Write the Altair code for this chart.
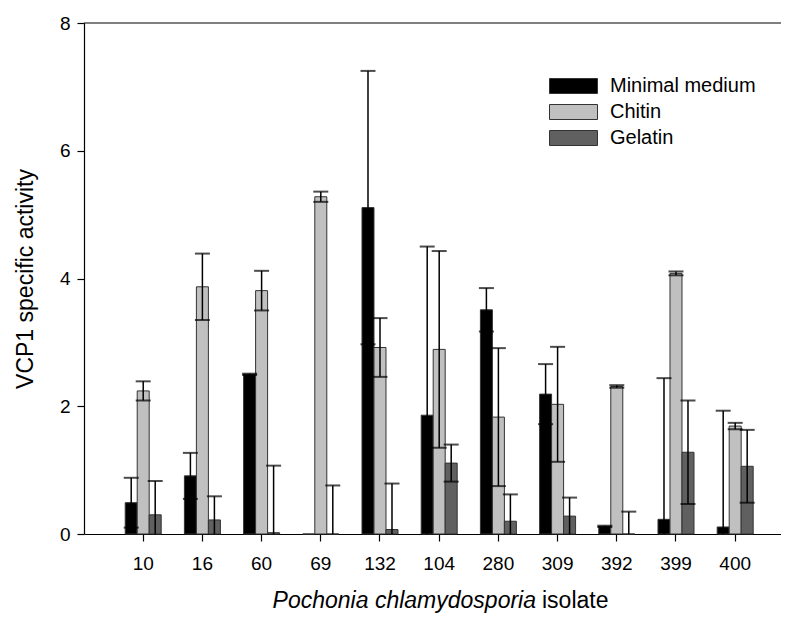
import altair as alt
import pandas as pd

isolates = ["10", "16", "60", "69", "132", "104", "280", "309", "392", "399", "400"]
media = ["Minimal medium", "Chitin", "Gelatin"]
colors = ["#000000", "#c0c0c0", "#606060"]

minimal_vals = [0.49, 0.91, 2.50, 0.0, 5.11, 1.86, 3.51, 2.19, 0.12, 0.23, 0.11]
minimal_err = [0.39, 0.36, 0.01, 0.0, 2.14, 2.64, 0.34, 0.47, 0.01, 2.21, 1.82]
chitin_vals = [2.24, 3.87, 3.81, 5.28, 2.92, 2.89, 1.83, 2.03, 2.31, 4.08, 1.69]
chitin_err = [0.15, 0.52, 0.31, 0.08, 0.46, 1.54, 1.08, 0.90, 0.02, 0.03, 0.05]
gelatin_vals = [0.30, 0.22, 0.02, 0.0, 0.07, 1.11, 0.20, 0.28, 0.0, 1.28, 1.06]
gelatin_err = [0.53, 0.37, 1.05, 0.76, 0.72, 0.29, 0.42, 0.29, 0.35, 0.81, 0.57]

rows = []
for medium, vals, errs in [
    ("Minimal medium", minimal_vals, minimal_err),
    ("Chitin", chitin_vals, chitin_err),
    ("Gelatin", gelatin_vals, gelatin_err),
]:
    for iso, v, e in zip(isolates, vals, errs):
        rows.append({"isolate": iso, "medium": medium, "value": v, "err": e,
                     "hi": v + e, "lo": v - e, "lo_line": max(v - e, 0.0)})
df = pd.DataFrame(rows)
err_df = df[df["err"] > 0]
lo_df = err_df[err_df["lo"] > 0]

FONT = "Liberation Sans"

x = alt.X("isolate:N", sort=isolates,
          scale=alt.Scale(paddingInner=0.392, paddingOuter=0.583, align=0.597, round=False),
          axis=alt.Axis(title=None, labelAngle=0, tickSize=7, labelPadding=13,
                        labelFontSize=19, domainWidth=1.2, tickWidth=1.2))
xoff = alt.XOffset("medium:N", sort=media,
                   scale=alt.Scale(domain=media, paddingInner=0, paddingOuter=0))
yscale = alt.Scale(domain=[0, 8], nice=False, zero=True)

bars = alt.Chart(df).mark_bar(stroke="#333333", strokeWidth=1).encode(
    x=x, xOffset=xoff,
    y=alt.Y("value:Q", scale=yscale,
            axis=alt.Axis(values=[0, 2, 4, 6, 8], format="d", title="VCP1 specific activity",
                          tickSize=7, labelPadding=7, labelFontSize=19,
                          titleFontSize=23, titleX=-59, titleY=255.5,
                          titleAngle=270, titleAlign="center", titleBaseline="middle",
                          domainWidth=1.2, tickWidth=1.2)),
    color=alt.Color("medium:N", sort=media,
                    scale=alt.Scale(domain=media, range=colors),
                    legend=alt.Legend(title=None, orient="none", legendX=465, legendY=53,
                                      symbolType="M-1,-0.3125H1V0.3125H-1Z",
                                      symbolSize=2304, symbolStrokeColor="#333333",
                                      symbolStrokeWidth=1, symbolOpacity=1,
                                      clipHeight=20, rowPadding=6,
                                      labelFontSize=20, labelOffset=12,
                                      labelFont=FONT, labelColor="black")),
)

err_line = alt.Chart(err_df).mark_rule(color="black", strokeWidth=1.5).encode(
    x=x, xOffset=xoff, y=alt.Y("lo_line:Q", scale=yscale), y2="hi:Q")
cap_hi = alt.Chart(err_df).mark_tick(color="black", orient="horizontal", size=15,
                                     thickness=2).encode(
    x=x, xOffset=xoff, y=alt.Y("hi:Q", scale=yscale))
cap_lo = alt.Chart(lo_df).mark_tick(color="black", orient="horizontal", size=15,
                                    thickness=2).encode(
    x=x, xOffset=xoff, y=alt.Y("lo:Q", scale=yscale))

top_line = alt.Chart(pd.DataFrame({"v": [8]})).mark_rule(color="black", strokeWidth=1.2).encode(
    y=alt.datum(8, scale=yscale))

title_it = alt.Chart(pd.DataFrame({"t": ["Pochonia chlamydosporia"]})).mark_text(
    align="right", baseline="alphabetic", fontStyle="italic", fontSize=23, font=FONT,
    color="black").encode(text="t:N", x=alt.value(452), y=alt.value(585))
title_rest = alt.Chart(pd.DataFrame({"t": ["isolate"]})).mark_text(
    align="left", baseline="alphabetic", fontSize=23, font=FONT,
    color="black").encode(text="t:N", x=alt.value(458), y=alt.value(585))

chart = alt.layer(bars, err_line, cap_hi, cap_lo, top_line, title_it, title_rest).properties(
    width=697, height=511,
    autosize=alt.AutoSizeParams(type="none"),
    padding={"left": 76, "top": 15, "right": 0, "bottom": 80},
).configure_view(stroke=None).configure_axis(
    grid=False, domainColor="black", tickColor="black", labelColor="black",
    titleColor="black", labelFont=FONT, titleFont=FONT, titleFontWeight="normal",
).configure_text(font=FONT)

chart.save("out.html", embed_options={"renderer": "svg", "actions": False})
